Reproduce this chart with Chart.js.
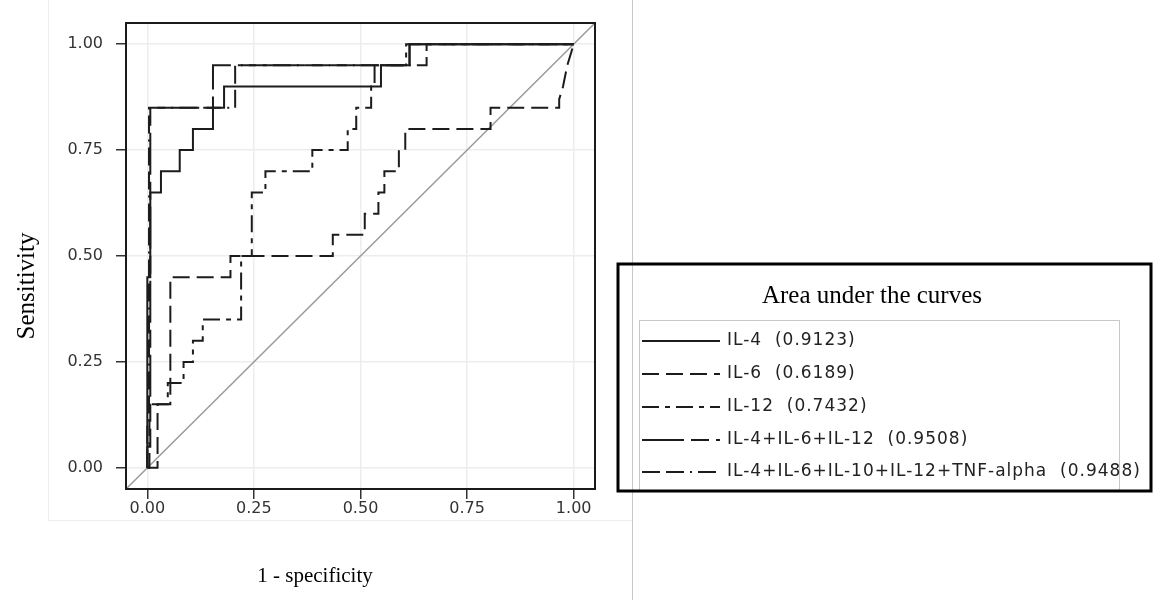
<!DOCTYPE html>
<html>
<head>
<meta charset="utf-8">
<script src="https://cdn.jsdelivr.net/npm/chart.js@4.4.1/dist/chart.umd.min.js"></script>
<style>
  body { margin: 0; background: #fff; }
  #wrap { position: relative; width: 1158px; height: 600px; }
</style>
</head>
<body>
<div id="wrap"><canvas id="roc" width="1158" height="600"></canvas></div>
<script>
'use strict';

// axis ticks
const tickValues = [0, 0.25, 0.5, 0.75, 1];

// legend names + AUC
const seriesNames = ['IL-4', 'IL-6', 'IL-12', 'IL-4+IL-6+IL-12', 'IL-4+IL-6+IL-10+IL-12+TNF-alpha'];
const aucValues = ['0.9123', '0.6189', '0.7432', '0.9508', '0.9488'];

// ROC corners (1 - specificity, sensitivity)
const il4Fpr = [0, 0, 0.007, 0.007, 0.032, 0.032, 0.076, 0.076, 0.107, 0.107, 0.154, 0.154, 0.18, 0.18, 0.548, 0.548, 0.615, 0.615, 1];
const il4Tpr = [0, 0.45, 0.45, 0.65, 0.65, 0.70, 0.70, 0.75, 0.75, 0.80, 0.80, 0.85, 0.85, 0.90, 0.90, 0.95, 0.95, 1, 1];

const il6Fpr = [0, 0.024, 0.024, 0.054, 0.054, 0.195, 0.195, 0.435, 0.435, 0.51, 0.51, 0.542, 0.542, 0.556, 0.556, 0.59, 0.59, 0.605, 0.605, 0.805, 0.805, 0.966, 0.966, 0.975, 0.985, 1];
const il6Tpr = [0, 0, 0.15, 0.15, 0.45, 0.45, 0.50, 0.50, 0.55, 0.55, 0.60, 0.60, 0.65, 0.65, 0.70, 0.70, 0.75, 0.75, 0.80, 0.80, 0.85, 0.85, 0.87, 0.90, 0.95, 1];

const il12Fpr = [0, 0.005, 0.005, 0.048, 0.048, 0.085, 0.085, 0.107, 0.107, 0.13, 0.13, 0.22, 0.22, 0.245, 0.245, 0.277, 0.277, 0.387, 0.387, 0.47, 0.47, 0.49, 0.49, 0.525, 0.525, 0.533, 0.533, 0.607, 0.607, 1];
const il12Tpr = [0, 0, 0.15, 0.15, 0.20, 0.20, 0.25, 0.25, 0.30, 0.30, 0.35, 0.35, 0.50, 0.50, 0.65, 0.65, 0.70, 0.70, 0.75, 0.75, 0.80, 0.80, 0.85, 0.85, 0.90, 0.90, 0.95, 0.95, 1, 1];

const combo3Fpr = [0, 0, 0.007, 0.007, 0.154, 0.154, 0.615, 0.615, 1];
const combo3Tpr = [0, 0.05, 0.05, 0.85, 0.85, 0.95, 0.95, 1, 1];

const combo5Fpr = [0, 0, 0.004, 0.004, 0.206, 0.206, 0.655, 0.655, 1];
const combo5Tpr = [0, 0.10, 0.10, 0.85, 0.85, 0.95, 0.95, 1, 1];

// chance line
const refFpr = [-0.05, 1.05];
const refTpr = [-0.05, 1.05];


window.addEventListener('load', run);

function run(){
  drawRoc();
};

function toPoints(xs, ys) {
  return xs.map((x, i) => ({ x: x, y: ys[i] }));
};

function curve(label, xs, ys, dash) {
  return {
    label: label,
    data: toPoints(xs, ys),
    borderColor: '#1c1c1c',
    borderWidth: 2,
    borderDash: dash,
    pointRadius: 0,
    fill: false,
    tension: 0
  };
};

// frame, page lines, axis titles and the AUC box
const decorations = {
  id: 'decorations',
  beforeDraw(chart) {
    const ctx = chart.ctx;
    ctx.save();
    ctx.strokeStyle = '#eeeeee';
    ctx.lineWidth = 1;
    ctx.beginPath();
    ctx.moveTo(48.5, 0);
    ctx.lineTo(48.5, 520.5);
    ctx.lineTo(632, 520.5);
    ctx.stroke();
    ctx.strokeStyle = '#c8c8c8';
    ctx.beginPath();
    ctx.moveTo(632.5, 0);
    ctx.lineTo(632.5, 600);
    ctx.stroke();
    ctx.restore();
  },
  afterDraw(chart) {
    const ctx = chart.ctx;
    const a = chart.chartArea;
    ctx.save();
    ctx.strokeStyle = '#1a1a1a';
    ctx.lineWidth = 2;
    ctx.strokeRect(a.left, a.top, a.right - a.left, a.bottom - a.top);

    ctx.fillStyle = '#000';
    ctx.textAlign = 'center';
    ctx.textBaseline = 'middle';
    ctx.font = '25px "Liberation Serif"';
    ctx.save();
    ctx.translate(27, 286);
    ctx.rotate(-Math.PI / 2);
    ctx.fillText('Sensitivity', 0, 0);
    ctx.restore();
    ctx.font = '21px "Liberation Serif"';
    ctx.fillText('1 - specificity', 315, 576);

    // AUC box
    ctx.strokeStyle = '#c8c8c8';
    ctx.lineWidth = 1;
    ctx.strokeRect(639.5, 320.5, 480, 170);
    ctx.strokeStyle = '#000';
    ctx.lineWidth = 3;
    ctx.strokeRect(618, 264, 533, 227);
    ctx.font = '25px "Liberation Serif"';
    ctx.fillText('Area under the curves', 872, 296);

    const rowY = [341, 374, 407, 440, 472];
    ctx.textAlign = 'left';
    ctx.font = '17px "DejaVu Sans"';
    ctx.letterSpacing = '1px';
    chart.data.datasets.slice(0, seriesNames.length).forEach((ds, i) => {
      ctx.strokeStyle = ds.borderColor;
      ctx.lineWidth = 2;
      ctx.setLineDash(ds.borderDash || []);
      ctx.beginPath();
      ctx.moveTo(642, rowY[i]);
      ctx.lineTo(720, rowY[i]);
      ctx.stroke();
      ctx.setLineDash([]);
      ctx.fillStyle = '#222';
      ctx.fillText(ds.label + '  (' + aucValues[i] + ')', 727, rowY[i]);
    });
    ctx.restore();
  }
};

function axisTicks(scale) {
  scale.ticks = tickValues.map(v => ({ value: v }));
};

function drawRoc() {
  const ctx = document.getElementById('roc').getContext('2d');
  const rocChart = new Chart(ctx, {
    type: 'line',
    data: {
      datasets: [
        curve(seriesNames[0], il4Fpr, il4Tpr, []),
        curve(seriesNames[1], il6Fpr, il6Tpr, [17, 7]),
        curve(seriesNames[2], il12Fpr, il12Tpr, [17, 6, 5, 6]),
        curve(seriesNames[3], combo3Fpr, combo3Tpr, [42, 7, 18, 7]),
        curve(seriesNames[4], combo5Fpr, combo5Tpr, [18, 6, 18, 6, 2, 6]),
        {
          label: 'chance',
          data: toPoints(refFpr, refTpr),
          borderColor: '#9a9a9a',
          borderWidth: 1.5,
          pointRadius: 0,
          fill: false
        }
      ]
    },
    options: {
      responsive: false,
      animation: false,
      devicePixelRatio: 1,
      layout: { padding: { left: 0, top: 23, right: 563, bottom: 71 } },
      plugins: {
        legend: { display: false },
        tooltip: { enabled: false }
      },
      scales: {
        x: {
          type: 'linear',
          min: -0.05,
          max: 1.05,
          afterBuildTicks: axisTicks,
          afterFit: s => { s.height = 40; },
          border: { display: false },
          grid: { color: '#ededed', lineWidth: 1.5, tickColor: '#333', tickLength: 10, tickWidth: 1.5 },
          ticks: {
            callback: v => v.toFixed(2),
            color: '#333',
            padding: 0,
            maxRotation: 0,
            autoSkip: false,
            font: { family: 'DejaVu Sans', size: 16 }
          }
        },
        y: {
          type: 'linear',
          min: -0.05,
          max: 1.05,
          afterBuildTicks: axisTicks,
          afterFit: s => { s.width = 126; },
          border: { display: false },
          grid: { color: '#ededed', lineWidth: 1.5, tickColor: '#333', tickLength: 10, tickWidth: 1.5 },
          ticks: {
            callback: v => v.toFixed(2),
            color: '#333',
            padding: 13,
            autoSkip: false,
            font: { family: 'DejaVu Sans', size: 16 }
          }
        }
      }
    },
    plugins: [decorations]
  });
};
</script>
</body>
</html>
